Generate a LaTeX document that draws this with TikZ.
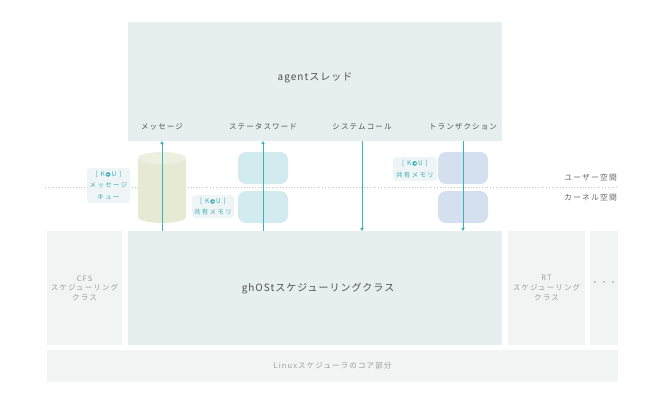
\documentclass[tikz,border=0pt]{standalone}
\usepackage{fontspec}
\usetikzlibrary{arrows.meta}
\setmainfont{Noto Sans CJK JP}
\newfontfamily\jpbig[LetterSpace=10]{Noto Sans CJK JP}
\newfontfamily\jpmid[LetterSpace=15]{Noto Sans CJK JP}
\newfontfamily\jpkou[LetterSpace=20]{Noto Sans CJK JP}
\newfontfamily\dejavu{DejaVu Sans}
\definecolor{agentc}{HTML}{E7EEF0}
\definecolor{sidec}{HTML}{F2F4F4}
\definecolor{cylc}{HTML}{E6EAD4}
\definecolor{cyltop}{HTML}{EDF0E1}
\definecolor{swc}{HTML}{D1EBEF}
\definecolor{trc}{HTML}{D4E0EE}
\definecolor{arrc}{HTML}{3DB1B7}
\definecolor{koutxt}{HTML}{3AAEB4}
\definecolor{kbg}{HTML}{EFF5F6}
\definecolor{darktxt}{HTML}{505050}
\definecolor{sidetxt}{HTML}{9A9A9A}
\definecolor{spctxt}{HTML}{666666}
\definecolor{dotc}{HTML}{C4C4C4}
\newcommand\kmark{\hspace{0.12em}\makebox[0.8em]{\makebox[0pt]{\dejavu\fontsize{6}{6}\selectfont\textcolor{koutxt}{●}}\makebox[0pt]{\textcolor{white}{\rule[0.27em]{0.28em}{0.09em}}}}\hspace{0.12em}}
\begin{document}
\begin{tikzpicture}[x=1pt,y=-1pt,
  panel/.style={anchor=north west, inner sep=0pt, outer sep=0pt, draw=none},
  bigtxt/.style={font=\jpbig\fontsize{10}{12}\selectfont, text=darktxt, inner sep=0pt},
  lbl/.style={font=\jpmid\fontsize{7.5}{9.5}\selectfont, text=darktxt, inner sep=0pt},
  sidelbl/.style={font=\jpmid\fontsize{7.5}{9.6}\selectfont, text=sidetxt, align=center, inner sep=0pt},
  spc/.style={font=\jpmid\fontsize{7.8}{9.5}\selectfont, text=spctxt, inner sep=0pt, anchor=east},
  rbox/.style={panel, rounded corners=8pt, minimum width=50pt, minimum height=32pt},
  koubox/.style={fill=kbg, rounded corners=3pt, inner sep=0pt, align=center, text=koutxt,
    font=\jpkou\fontsize{6.5}{11.5}\selectfont},
  arr/.style={draw=arrc, line width=0.8pt, -{Triangle[length=3.2pt,width=3.4pt]}},
  dotline/.style={draw=dotc, line width=0.7pt, dash pattern=on 0.8pt off 2pt}
]
\useasboundingbox (0,0) rectangle (660,402);
% main panels
\node[panel, fill=agentc, minimum width=374pt, minimum height=119pt] (agent) at (128,22) {};
\node[panel, fill=agentc, minimum width=374pt, minimum height=114pt] (ghost) at (128,231) {};
\node[panel, fill=sidec, minimum width=75pt, minimum height=114pt] (cfs) at (47,231) {};
\node[panel, fill=sidec, minimum width=77pt, minimum height=114pt] (rt) at (508,231) {};
\node[panel, fill=sidec, minimum width=28pt, minimum height=114pt] (more) at (590,231) {};
\node[panel, fill=sidec, minimum width=571pt, minimum height=32pt] (linux) at (47,350) {};
% texts
\node[bigtxt] (agentlbl) at (315,78) {agentスレッド};
\node[lbl] (lmsg) at (162,127) {メッセージ};
\node[lbl] (lsw) at (263,127) {ステータスワード};
\node[lbl] (lsc) at (362,127) {システムコール};
\node[lbl] (ltr) at (463,127) {トランザクション};
\node[bigtxt] (ghostlbl) at (318,289) {ghOStスケジューリングクラス};
\node[sidelbl] (cfslbl) at (cfs.center) {CFS\\スケジューリング\\クラス};
\node[sidelbl] (rtlbl) at (rt.center) {RT\\スケジューリング\\クラス};
\node[sidelbl, font=\jpmid\fontsize{8}{9.6}\selectfont] (morelbl) at (604,284) {・・・};
\node[sidelbl] (linuxlbl) at (linux.center) {Linuxスケジューラのコア部分};
% user / kernel boundary
\coordinate (dl) at (45,187);
\coordinate (dr) at (618,187);
\draw[dotline] (dl) -- (dr);
\node[spc] (uspace) at (617,178) {ユーザー空間};
\node[spc] (kspace) at (617,198) {カーネル空間};
% message queue cylinder
\fill[cylc] (138,158) rectangle (186,217);
\fill[cylc] (162,217) ellipse[x radius=24pt, y radius=6pt];
\fill[cyltop] (162,158) ellipse[x radius=24pt, y radius=6pt];
\node[inner sep=0pt, minimum width=48pt, minimum height=71pt] (mq) at (162,187.5) {};
% status word shared memory
\node[rbox, fill=swc] (sw1) at (238,152) {};
\node[rbox, fill=swc] (sw2) at (238,191) {};
% transaction shared memory
\node[rbox, fill=trc] (tr1) at (438,152) {};
\node[rbox, fill=trc] (tr2) at (438,191) {};
% KOU labels
\node[koubox, minimum width=43pt, minimum height=35pt] (k1) at (108.5,185.5) {[ K\kmark U ]\\メッセージ\\キュー};
\node[koubox, minimum width=42pt, minimum height=23pt] (k2) at (213,206.5) {[ K\kmark U ]\\共有メモリ};
\node[koubox, minimum width=44pt, minimum height=24pt] (k3) at (415,169) {[ K\kmark U ]\\共有メモリ};
% arrows
\draw[arr] (lmsg |- ghost.north) -- (lmsg |- agent.south);
\draw[arr] (lsw |- ghost.north) -- (lsw |- agent.south);
\draw[arr] (lsc |- agent.south) -- (lsc |- ghost.north);
\draw[arr] (ltr |- agent.south) -- (ltr |- ghost.north);
\end{tikzpicture}
\end{document}
